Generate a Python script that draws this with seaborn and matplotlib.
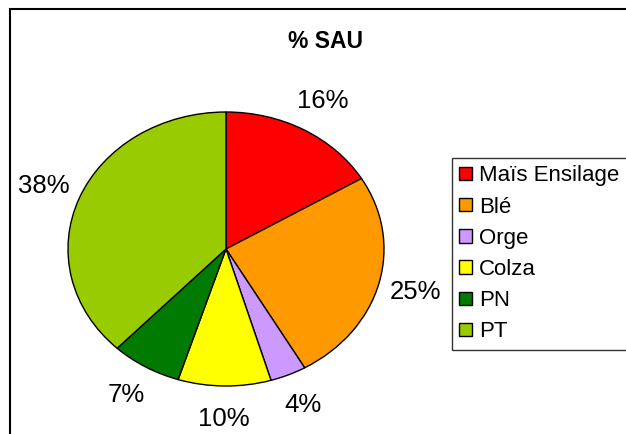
import matplotlib
matplotlib.use("Agg")
import matplotlib.pyplot as plt
import seaborn as sns
from matplotlib.patches import Rectangle

categories = ["Maïs Ensilage", "Blé", "Orge", "Colza", "PN", "PT"]
values = [16.4, 25.3, 3.7, 9.5, 7.2, 37.9]
pct_labels = ["16%", "25%", "4%", "10%", "7%", "38%"]
colors = ["#FF0000", "#FF9900", "#CC99FF", "#FFFF00", "#007A00", "#99CC00"]
title = "% SAU"

sns.set_style("white")
plt.rcParams['font.family'] = ['Liberation Sans', 'DejaVu Sans']
plt.rcParams['text.color'] = 'black'

W, H = 626, 434
fig = plt.figure(figsize=(W / 100, H / 100), dpi=100)
fig.patch.set_facecolor("white")

# outer frame (extends beyond right/bottom edge)
fig.patches.append(Rectangle((10 / W, -0.1), 1.2, 1.1 - 9 / H, transform=fig.transFigure,
                             fill=False, edgecolor="black", linewidth=1.5))

cx, cy, rx, ry = 226, 249, 158, 137
ax = fig.add_axes([(cx - rx) / W, 1 - (cy + ry) / H, 2 * rx / W, 2 * ry / H])
wedges, texts = ax.pie(values, colors=colors, labels=pct_labels, startangle=90,
                       counterclock=False, labeldistance=1.24,
                       wedgeprops=dict(edgecolor="black", linewidth=1.0),
                       textprops=dict(fontsize=18.5, color="black"))
for t in texts:
    t.set_ha("center")
    t.set_va("center")
    t.set_clip_on(False)
ax.set_aspect("auto")
ax.set_xlim(-1, 1)
ax.set_ylim(-1, 1)
ax.axis("off")

fig.text(326 / W, 1 - 41 / H, title, ha="center", va="center", fontsize=16.5,
         fontweight="bold", color="black")

leg = fig.legend(wedges, categories, loc="upper left", bbox_to_anchor=(452 / W, 1 - 158 / H),
                 frameon=True, fancybox=False, edgecolor="black", fontsize=16,
                 handlelength=0.55, handleheight=0.55, handletextpad=0.35, labelspacing=0.46,
                 borderpad=0.33, borderaxespad=0, labelcolor="black")
leg.get_frame().set_linewidth(1.0)

fig.savefig("out.png", dpi=100, facecolor="white")
